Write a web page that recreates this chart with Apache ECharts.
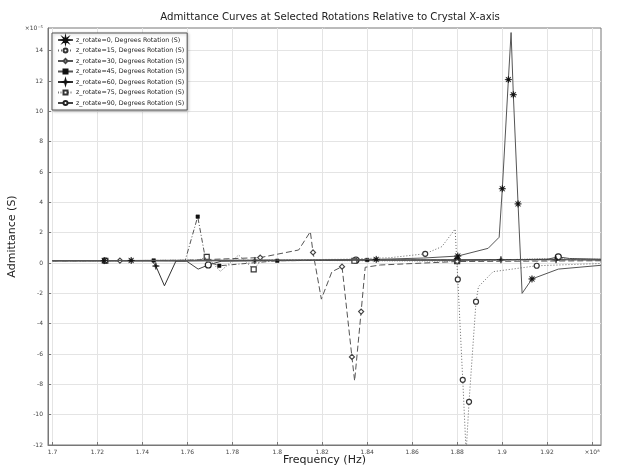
<!DOCTYPE html>
<html><head><meta charset="utf-8">
<script src="https://cdn.jsdelivr.net/npm/echarts@6/dist/echarts.min.js"></script>
<style>html,body{margin:0;padding:0;background:#fff}#c{width:619px;height:468px}</style>
</head><body><div id="c"></div>
<script>
// Frequencies in units of 1e8 Hz, admittance in units of 1e-5 S
const seriesNames = [
  'z_rotate=0, Degrees Rotation (S)',
  'z_rotate=15, Degrees Rotation (S)',
  'z_rotate=30, Degrees Rotation (S)',
  'z_rotate=45, Degrees Rotation (S)',
  'z_rotate=60, Degrees Rotation (S)',
  'z_rotate=75, Degrees Rotation (S)',
  'z_rotate=90, Degrees Rotation (S)'
];
const xTicks = [1.70,1.72,1.74,1.76,1.78,1.80,1.82,1.84,1.86,1.88,1.90,1.92,1.94];
const yTicks = [-12,-10,-8,-6,-4,-2,0,2,4,6,8,10,12,14];

const freq0 = [1.700,1.723,1.735,1.760,1.790,1.820,1.844,1.865,1.8803,1.8938,1.8987,1.9001,1.9028,1.9040,1.9050,1.9071,1.9089,1.9133,1.9250,1.9440];
const adm0  = [0.15,0.16,0.17,0.18,0.19,0.21,0.24,0.33,0.46,0.97,1.7,4.9,12.1,15.2,11.1,3.9,-2.0,-1.05,-0.4,-0.15];
const mk0   = [1,2,6,8,11,12,14,15,17];

const freq15 = [1.700,1.7235,1.760,1.800,1.830,1.850,1.8658,1.8732,1.8791,1.8803,1.8825,1.8840,1.8853,1.8884,1.8895,1.896,1.9154,1.944];
const adm15  = [0.15,0.16,0.17,0.2,0.25,0.35,0.61,1.08,2.24,-1.08,-7.7,-12.5,-9.15,-2.55,-1.56,-0.57,-0.18,-0.03];
const mk15   = [1,6,9,10,12,13,16];

const freq30 = [1.700,1.730,1.760,1.7924,1.8095,1.8147,1.8159,1.8196,1.8243,1.8288,1.8332,1.8344,1.8373,1.8391,1.8458,1.880,1.944];
const adm30  = [0.15,0.16,0.18,0.36,0.86,2.07,0.7,-2.38,-0.57,-0.24,-6.19,-7.77,-3.2,-0.28,-0.13,0.1,0.15];
const mk30   = [1,3,6,9,10,12,15];

const freq45 = [1.700,1.720,1.745,1.759,1.7646,1.7682,1.7742,1.800,1.840,1.880,1.944];
const adm45  = [0.15,0.16,0.17,0.15,3.06,0.15,-0.18,0.15,0.2,0.2,0.22];
const mk45   = [2,4,6,7,8,9];

const freq60 = [1.700,1.7442,1.746,1.7498,1.7549,1.790,1.840,1.8995,1.924,1.944];
const adm60  = [0.15,0.15,-0.2,-1.5,0.13,0.17,0.2,0.22,0.22,0.2];
const mk60   = [2,5,7,8];

const freq75 = [1.700,1.7235,1.765,1.7686,1.7747,1.7828,1.7895,1.793,1.8343,1.880,1.920,1.944];
const adm75  = [0.15,0.15,0.2,0.4,-0.55,0.53,-0.42,0.2,0.15,0.12,0.3,0.25];
const mk75   = [1,3,6,8,9];

const freq90 = [1.700,1.7596,1.7648,1.7693,1.775,1.835,1.880,1.920,1.925,1.930,1.944];
const adm90  = [0.15,0.13,-0.4,-0.13,0.12,0.2,0.18,0.25,0.4,0.3,0.25];
const mk90   = [3,5,6,8];

function starPath(n, ro, ri){
  let d='';
  for(let i=0;i<2*n;i++){
    const r = i%2 ? ri : ro;
    const a = Math.PI*i/n - Math.PI/2;
    d += (i?'L':'M') + (10+r*Math.cos(a)).toFixed(2) + ' ' + (10+r*Math.sin(a)).toFixed(2) + ' ';
  }
  return 'path://' + d + 'Z';
}
const asterisk = starPath(8, 10, 3.5);
const star4 = starPath(4, 10, 3);

const styles = [
  {freq:freq0, adm:adm0, mk:mk0, symbol:asterisk, size:7, line:'solid', color:'#555', sym:'#111', empty:false},
  {freq:freq15, adm:adm15, mk:mk15, symbol:'circle', size:5, line:[1,2], color:'#666', sym:'#333', empty:true},
  {freq:freq30, adm:adm30, mk:mk30, symbol:'diamond', size:5, line:[6,3], color:'#555', sym:'#444', empty:true},
  {freq:freq45, adm:adm45, mk:mk45, symbol:'rect', size:3.5, line:[5,2,1,2], color:'#555', sym:'#111', empty:false},
  {freq:freq60, adm:adm60, mk:mk60, symbol:star4, size:7, line:'solid', color:'#333', sym:'#111', empty:false},
  {freq:freq75, adm:adm75, mk:mk75, symbol:'rect', size:5, line:[1,1.5], color:'#777', sym:'#333', empty:true},
  {freq:freq90, adm:adm90, mk:mk90, symbol:'circle', size:6, line:'solid', color:'#444', sym:'#222', empty:true}
];

const series = styles.map((s, k) => ({
  name: seriesNames[k],
  type: 'line',
  symbol: s.symbol,
  symbolSize: s.size,
  showSymbol: true,
  showAllSymbol: true,
  clip: true,
  z: 10 - k,
  lineStyle: {color: s.color, width: 1, type: s.line},
  itemStyle: s.empty ? {color:'#fff', borderColor: s.sym, borderWidth: 1.2} : {color: s.sym, borderColor: s.sym, borderWidth: 0.5},
  data: s.freq.map((f,i) => ({value:[f, s.adm[i]], symbolSize: s.mk.includes(i) ? s.size : 0}))
}));

const chart = echarts.init(document.getElementById('c'), null, {renderer:'canvas'});
chart.setOption({
  animation: false,
  backgroundColor: '#fff',
  textStyle: {fontFamily: 'DejaVu Sans'},
  title: {
    text: 'Admittance Curves at Selected Rotations Relative to Crystal X-axis',
    left: 325, textAlign: 'center', top: 7,
    textStyle: {fontSize: 10.2, fontWeight: 'normal', color: '#222', fontFamily: 'DejaVu Sans'}
  },
  legend: {
    orient: 'vertical', left: 52, top: 33,
    data: seriesNames,
    itemWidth: 15, itemHeight: 5, itemGap: 4.5,
    padding: [4, 3, 4, 5],
    backgroundColor: '#fff', borderColor: '#555', borderWidth: 1,
    shadowColor: 'rgba(0,0,0,0.25)', shadowBlur: 3, shadowOffsetX: 1, shadowOffsetY: 1,
    textStyle: {fontSize: 6.3, color: '#222', fontFamily: 'DejaVu Sans', padding: [0,0,0,-2]}
  },
  grid: {left: 48, right: 18, top: 28, bottom: 23, show: true, borderColor: '#777', borderWidth: 1, outerBoundsMode: 'none', containLabel: false},
  xAxis: {
    type: 'value', min: 1.698, max: 1.944,
    name: 'Frequency (Hz)', nameLocation: 'middle', nameGap: 10, nameMoveOverlap: false,
    nameTextStyle: {fontSize: 11, color: '#222', verticalAlign: 'top'},
    axisLine: {show: true, onZero: false, lineStyle: {color: '#777'}},
    axisTick: {show: true, inside: true, length: 3, customValues: xTicks, lineStyle: {color: '#777'}},
    axisLabel: {customValues: xTicks, fontSize: 6, color: '#444', margin: 4,
      formatter: v => Math.abs(v-1.94) < 1e-6 ? '×10⁸' : String(Number(v.toFixed(2)))},
    splitLine: {show: true, lineStyle: {color: '#e4e4e4', width: 1}}
  },
  yAxis: {
    type: 'value', min: -12, max: 15.5,
    name: 'Admittance (S)', nameLocation: 'middle', nameGap: 30, nameMoveOverlap: false,
    nameTextStyle: {fontSize: 11, color: '#222'},
    axisLine: {show: true, lineStyle: {color: '#777'}},
    axisTick: {show: true, inside: true, length: 3, customValues: yTicks, lineStyle: {color: '#777'}},
    axisLabel: {customValues: yTicks.concat([15.5]), fontSize: 6, color: '#444', margin: 5,
      formatter: v => v > 15 ? '×10⁻⁵' : String(v)},
    splitLine: {show: true, lineStyle: {color: '#e4e4e4', width: 1}}
  },
  series: series
});
</script>
</body></html>
